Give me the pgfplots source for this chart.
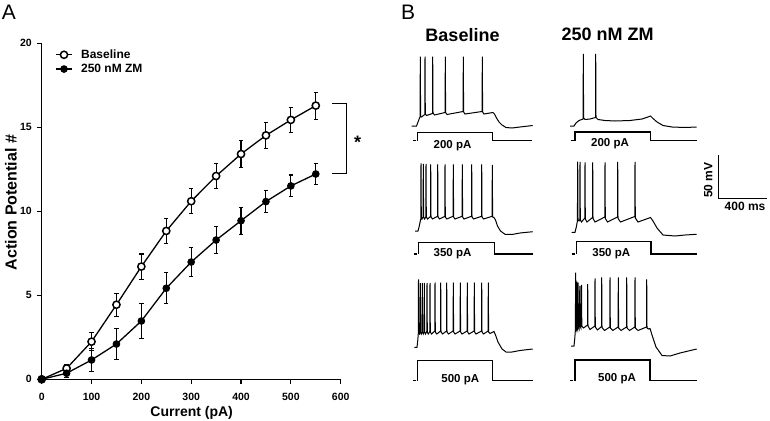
\documentclass[border=0pt]{standalone}
\usepackage{fontspec}
\setmainfont{Liberation Sans}
\usepackage{pgfplots}
\pgfplotsset{compat=1.18}
\begin{document}
\begin{tikzpicture}
\path[use as bounding box] (0pt,0pt) rectangle (770pt,420pt);
% ---------------- Panel A ----------------
\begin{axis}[
  at={(41.7pt,40.7pt)}, anchor=south west,
  scale only axis, width=299pt, height=336pt,
  xmin=0, xmax=600, ymin=0, ymax=20,
  axis x line*=bottom, axis y line*=left,
  axis line style={-, line width=1.3pt},
  xtick={0,100,...,600}, ytick={0,5,10,15,20},
  tick align=outside, major tick length=4.5pt,
  tick style={line width=1.1pt, black},
  /pgf/number format/assume math mode=true,
  ticklabel style={font=\fontsize{10.5}{12}\selectfont\bfseries},
  xticklabel style={inner sep=0pt, yshift=-9pt},
  yticklabel style={inner sep=0pt, xshift=-5.3pt},
  clip=false,
  legend style={draw=none, fill=none, at={(0.045,0.986)}, anchor=north west,
    font=\fontsize{12}{14}\selectfont\bfseries, row sep=1.2pt, inner sep=0pt,
    nodes={inner sep=1.5pt},
    /tikz/every odd column/.append style={column sep=7pt}},
  legend cell align=left,
  legend image code/.code={\draw[mark repeat=2,mark phase=2,#1] plot coordinates {(0pt,0pt)(8pt,0pt)(16pt,0pt)};},
]
\addplot[black, line width=1.3pt, mark=*, mark size=3.6pt,
  mark options={fill=white, line width=1.5pt},
  error bars/.cd, y dir=both, y explicit,
  error bar style={line width=1.1pt},
  error mark options={rotate=90, mark size=2.2pt, line width=1.1pt}]
coordinates {
(0,0) +- (0,0)
(50,0.65) +- (0,0.25)
(100,2.24) +- (0,0.55)
(150,4.44) +- (0,0.68)
(200,6.71) +- (0,0.75)
(250,8.83) +- (0,0.75)
(300,10.6) +- (0,0.75)
(350,12.1) +- (0,0.76)
(400,13.41) +- (0,0.8)
(450,14.52) +- (0,0.76)
(500,15.44) +- (0,0.75)
(550,16.29) +- (0,0.8)
};
\addlegendentry{Baseline}
\addplot[black, line width=1.3pt, mark=*, mark size=3.3pt,
  mark options={fill=black, line width=1pt},
  error bars/.cd, y dir=both, y explicit,
  error bar style={line width=1.1pt},
  error mark options={rotate=90, mark size=2.2pt, line width=1.1pt}]
coordinates {
(0,0) +- (0,0)
(50,0.36) +- (0,0.25)
(100,1.15) +- (0,0.7)
(150,2.1) +- (0,0.94)
(200,3.47) +- (0,1.05)
(250,5.42) +- (0,0.93)
(300,6.98) +- (0,0.87)
(350,8.29) +- (0,0.8)
(400,9.44) +- (0,0.8)
(450,10.58) +- (0,0.65)
(500,11.51) +- (0,0.65)
(550,12.22) +- (0,0.6)
};
\addlegendentry{250 nM ZM}
% significance bracket
\addplot[black, line width=1.5pt, forget plot] coordinates {(582.5,16.43) (612,16.43) (612,12.26) (582.5,12.26)};
\node[anchor=base, font=\fontsize{18}{20}\selectfont\bfseries] at (axis cs:634,13.73) {*};
\end{axis}
\node[anchor=base, font=\fontsize{14}{16}\selectfont\bfseries] at (191.7pt,4pt) {Current (pA)};
\node[rotate=90, anchor=base, font=\fontsize{16}{18}\selectfont\bfseries] at (16.7pt,217.5pt) {Action Potential \#};
\node[font=\fontsize{21}{24}\selectfont] at (9pt,407.5pt) {A};
\node[font=\fontsize{21}{24}\selectfont] at (408pt,407.5pt) {B};
% ---------------- Panel B ----------------
\begin{axis}[
  at={(400pt,0pt)}, anchor=south west,
  scale only axis, width=370pt, height=420pt,
  xmin=400, xmax=770, ymin=0, ymax=420, y dir=reverse,
  hide axis, clip=false,
]
% row 1 baseline
\addplot[black, line width=1pt] coordinates {
(411.7,126)(416.5,126)(418,122)(419.5,118)(420.1,117)(420.3,56.7)(420.6,116.5)(421.5,117)(424.8,114.5)(425,56.7)(425.3,114)(426.5,115.5)(432.5,113.5)(432.7,56.7)(433,113)(434.5,115)(445.1,112.5)(445.3,56.7)(445.6,112.5)(447,114.5)(463.1,111.5)(463.3,56.7)(463.6,112)(465,114)(482.1,111.5)(482.3,56.7)(482.6,112)(484,114)(493,112.5)(494.5,114)(496.5,118)(499,122)(502,125)(506,127.5)(512,128)(520,127)(532.7,125.5)};
% row 1 ZM
\addplot[black, line width=1pt] coordinates {
(570,126)(574,126)(576,123)(579,120.5)(583.1,119)(583.3,54)(583.6,118)(585,119.5)(590,119)(595.5,117.5)(595.7,54)(596,117.5)(598,119.5)(605,120.5)(615,121)(630,120.5)(642,119)(648,117)(650.5,116)(653,118.5)(657,122)(663,125.5)(672,127)(685,127.5)(696.7,127)};
% row 2 baseline
\addplot[black, line width=1pt] coordinates {
(415,231)(418,231)(419.3,226)(420.5,220)(420.8,219)(421,163.5)(421.3,217)(422,219)(423.1,217)(423.3,164)(423.6,217)(424.5,219)(425.8,217)(426,164)(426.3,217)(427.5,219)(430.5,216.5)(430.7,164.3)(431,217)(432.5,219)(437.5,216.3)(437.7,164.3)(438,217)(439.5,219)(444.8,216.3)(445,164.3)(445.3,217)(446.8,219)(453.1,216.3)(453.3,164.3)(453.6,217)(455,219)(462.1,216.3)(462.3,164.3)(462.6,217)(464,219)(471.5,216.3)(471.7,164.5)(472,217)(473.5,219)(481.5,216.3)(481.7,164.5)(482,217)(483.5,219)(492.1,216.3)(492.3,165)(492.6,217)(494,217.5)(495.5,220)(497.5,226)(500.5,231)(505,234.3)(512,234.5)(520,233)(532.7,231.7)};
% row 2 ZM
\addplot[black, line width=1pt] coordinates {
(571.7,232.3)(575,232.3)(576.3,227)(577.4,221)(577.7,161.7)(578,220)(579,221)(579.8,219.5)(580,162)(580.3,220)(581.5,222)(584.8,218)(585,162.5)(585.3,219)(587,222)(592.5,217.5)(592.7,162.5)(593,218.5)(595,222)(604.8,217)(605,162.5)(605.3,218.5)(607.5,222)(617.5,217)(617.7,162)(618,218.5)(620.5,222)(634.8,216.5)(635,162)(635.3,218)(638,222)(645,219.5)(650.5,217.5)(653,221)(657,228)(663,235)(675,236)(685,235)(696.7,234.3)};
% row 3 baseline
\addplot[black, line width=1pt] coordinates {
(414.3,347.3)(417,347.3)(417.8,340)(418.3,333)(418.5,279.3)(418.8,333)(419.5,334)(420.1,332)(420.3,283)(420.6,332)(421.3,334)(422.1,332)(422.3,283)(422.6,332)(423.3,334)(424.1,332)(424.3,283)(424.6,332)(425.5,334)(426.8,331.5)(427,283)(427.3,332)(428.3,334)(429.8,331.5)(430,283)(430.3,332)(431.5,334)(434.8,331)(435,282.5)(435.3,332)(436.8,334)(440.5,331)(440.7,282.5)(441,332)(442.5,334)(446.5,331)(446.7,282.5)(447,332)(448.5,334)(453.1,331)(453.3,282.5)(453.6,332)(455,334)(460.1,331)(460.3,282.5)(460.6,332)(462,334)(467.1,331)(467.3,282.5)(467.6,332)(469,334)(474.1,331)(474.3,282.5)(474.6,332)(476,334)(481.5,331)(481.7,282.5)(482,332)(483.5,334)(488.1,331)(488.3,282.5)(488.6,332)(490,333.5)(494,331.5)(495.5,335)(498,342)(502,349)(506,352)(512,352)(520,350.5)(532.7,349)};
% row 3 ZM
\addplot[black, line width=1pt] coordinates {
(571,346)(574,346)(574.8,338)(575.3,331)(575.7,272.7)(576,328)(576.6,330)(576.8,281.7)(577.1,327)(577.7,329)(578.1,282.7)(578.4,327)(579.2,329)(579.8,286)(580.1,326)(580.9,328)(581.5,285)(581.8,326)(583.5,328)(587.5,325)(587.7,284)(588,326)(590,329.5)(594.8,326)(595,278.3)(595.3,327)(597.5,330)(601.5,326.5)(601.7,277.3)(602,327.5)(604.5,330.5)(609.8,327)(610,277.3)(610.3,328)(612.8,330.5)(618.1,327)(618.3,277.3)(618.6,328)(621,330.5)(626.5,327)(626.7,277.3)(627,328)(629.5,330.5)(634.8,327)(635,277.3)(635.3,328)(638,330.5)(646.5,327)(646.7,279.3)(647,328)(648.5,329)(650,328.5)(652,335)(656,347)(662,355.5)(670,356)(680,353)(696.7,349)};
% stimulus steps
\addplot[black, line width=1.3pt] coordinates {(413.3,140.7)(416.3,140.7)};
\addplot[black, line width=1.3pt] coordinates {(417.7,140.7)(417.7,132.7)(492.3,132.7)(492.3,140.7)(532.3,140.7)};
\addplot[black, line width=1.3pt] coordinates {(570.7,140.7)(573.7,140.7)};
\addplot[black, line width=1.3pt] coordinates {(575,140.7)(575,132)(650.7,132)(650.7,140.7)(696.7,140.7)};
\addplot[black, line width=1.3pt] coordinates {(414,254)(417,254)};
\addplot[black, line width=1.3pt] coordinates {(418.3,254)(418.3,242.3)(494.3,242.3)(494.3,254)(532.7,254)};
\addplot[black, line width=1.3pt] coordinates {(571.5,254)(574.5,254)};
\addplot[black, line width=1.3pt] coordinates {(576.7,254)(576.7,241.7)(651,241.7)(651,254)(697,254)};
\addplot[black, line width=1.3pt] coordinates {(412.7,380.7)(415.7,380.7)};
\addplot[black, line width=1.3pt] coordinates {(417.7,380.7)(417.7,360.7)(492.3,360.7)(492.3,380.7)(532.7,380.7)};
\addplot[black, line width=1.3pt] coordinates {(570,380.7)(573,380.7)};
\addplot[black, line width=1.3pt] coordinates {(575,380.7)(575,360)(650,360)(650,380.7)(696.7,380.7)};
% scale bar
\addplot[black, line width=1.4pt] coordinates {(718.3,155)(718.3,198.3)(766.7,198.3)};
% text
\node[anchor=base, font=\fontsize{18}{20}\selectfont\bfseries] at (axis cs:462.5,41.7) {Baseline};
\node[anchor=base, font=\fontsize{18}{20}\selectfont\bfseries] at (axis cs:607.5,40.7) {250 nM ZM};
\node[font=\fontsize{11.5}{13}\selectfont\bfseries] at (axis cs:452.5,146) {200 pA};
\node[font=\fontsize{11.5}{13}\selectfont\bfseries] at (axis cs:610,144) {200 pA};
\node[font=\fontsize{11.5}{13}\selectfont\bfseries] at (axis cs:452.5,254) {350 pA};
\node[font=\fontsize{11.5}{13}\selectfont\bfseries] at (axis cs:611.3,254) {350 pA};
\node[font=\fontsize{11.5}{13}\selectfont\bfseries] at (axis cs:460.3,379.7) {500 pA};
\node[font=\fontsize{11.5}{13}\selectfont\bfseries] at (axis cs:617,378.8) {500 pA};
\node[rotate=90, font=\fontsize{12}{14}\selectfont\bfseries] at (axis cs:708.3,180) {50 mV};
\node[font=\fontsize{12}{14}\selectfont\bfseries] at (axis cs:745,206.7) {400 ms};
\end{axis}
\end{tikzpicture}
\end{document}
